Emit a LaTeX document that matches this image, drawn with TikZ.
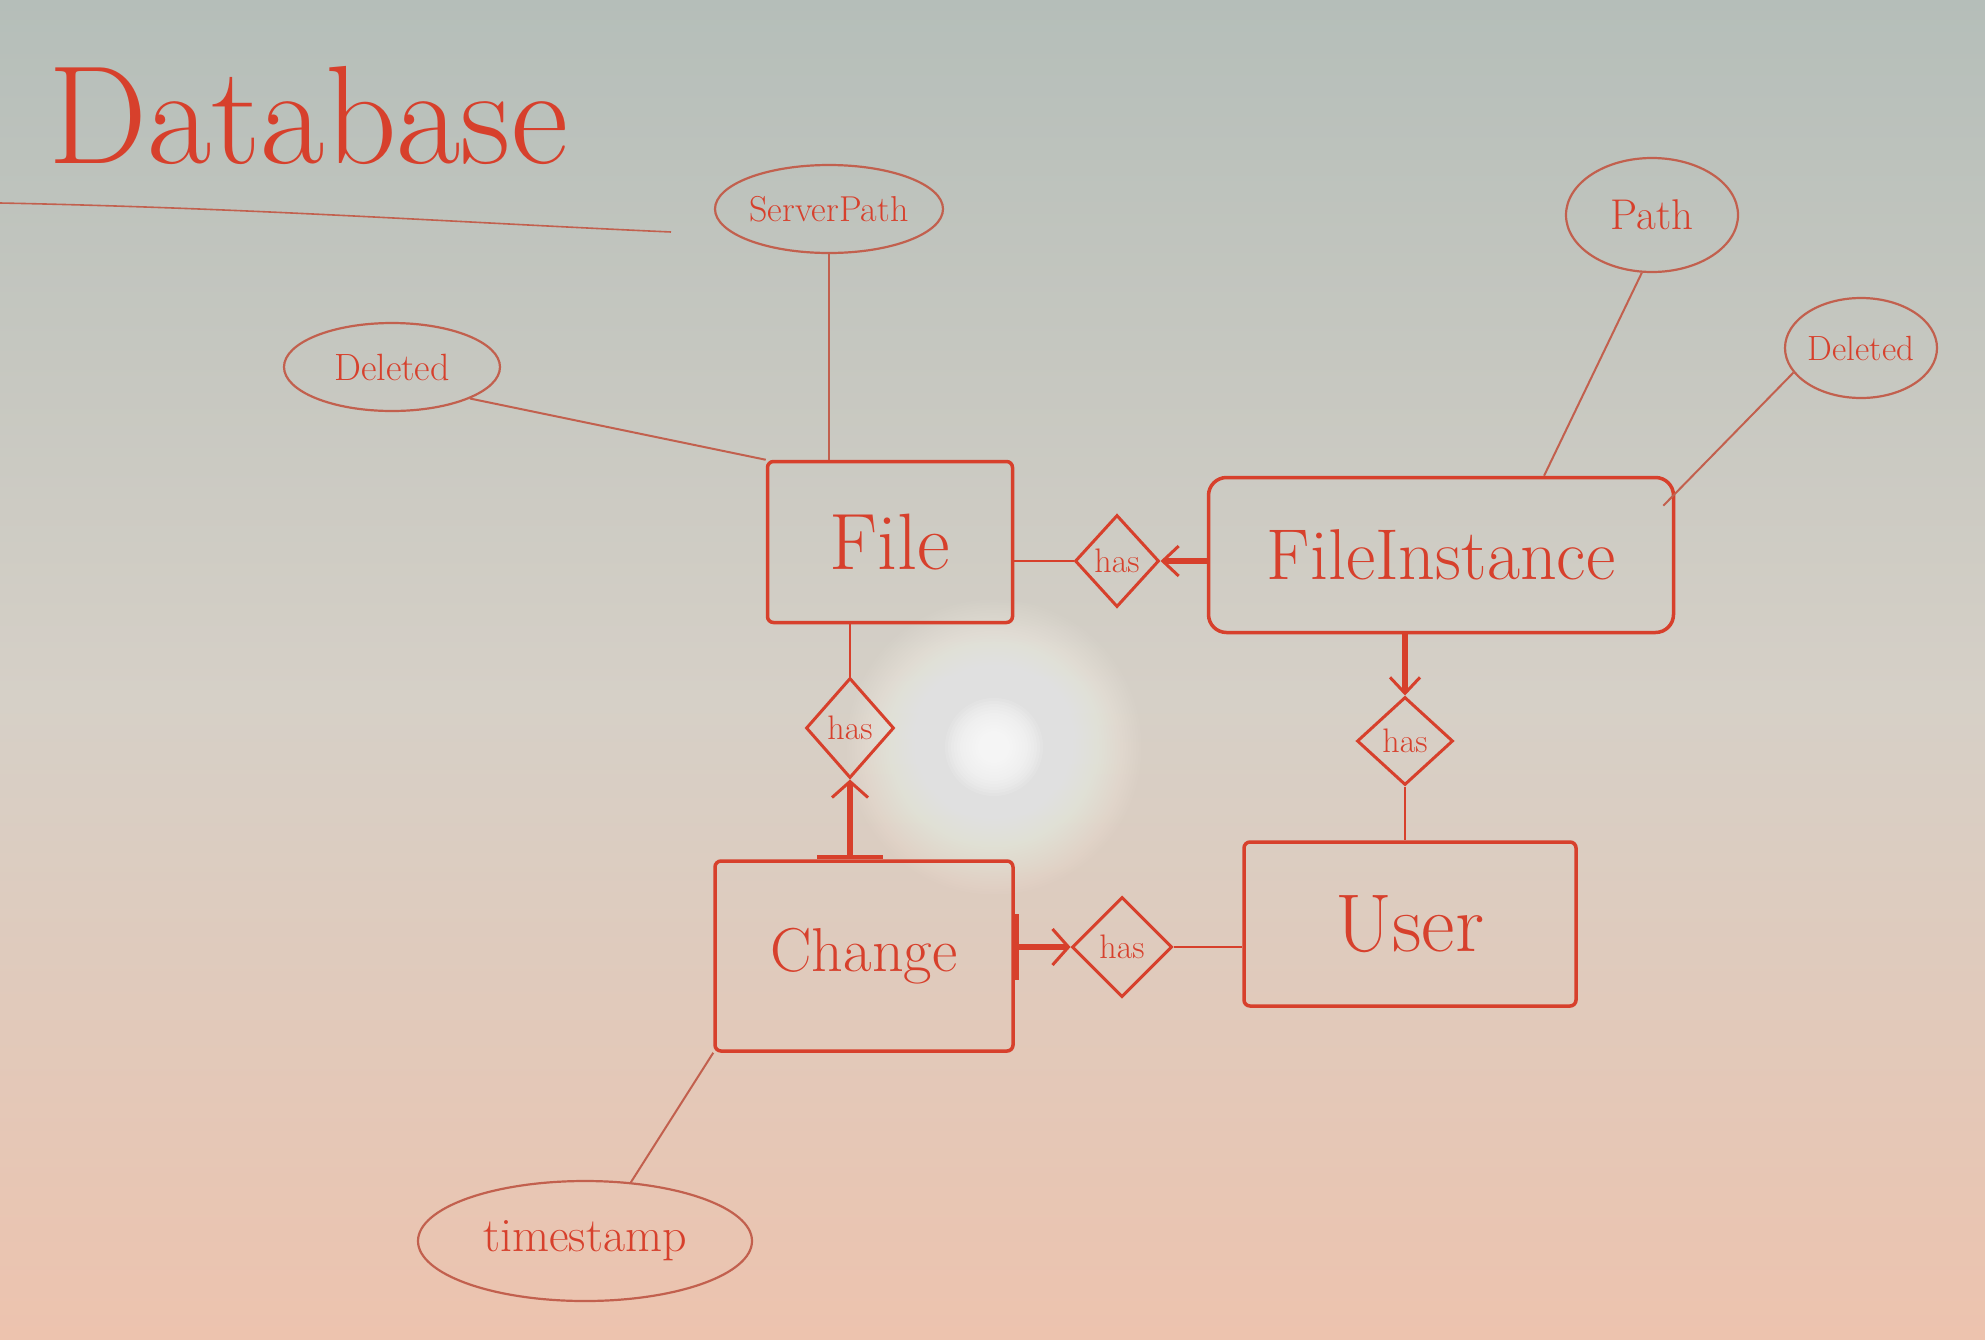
\documentclass[tikz,border=0pt]{standalone}
\usetikzlibrary{shapes.geometric,arrows.meta,calc}
\definecolor{ink}{HTML}{D7402C}
\definecolor{thinink}{HTML}{C2604E}
\definecolor{boardtop}{HTML}{B5BEB9}
\definecolor{boardmid}{HTML}{D6D0C7}
\definecolor{boardbot}{HTML}{EDC3AE}
\tikzset{
  entity/.style={draw=ink, line width=3.5pt, rounded corners=6pt, text=ink, inner sep=0pt},
  attr/.style={draw=thinink, ellipse, line width=2.2pt, text=ink, inner sep=0pt},
  rel/.style={draw=ink, diamond, line width=3pt, text=ink, inner sep=0pt, font=\fontsize{34}{34}\selectfont},
  thin/.style={draw=thinink, line width=2pt},
  link/.style={draw=ink, line width=2.2pt},
  heavy/.style={draw=ink, line width=5.5pt, -{Straight Barb[length=16pt,width=30pt,line width=3pt]}},
  heavybar/.style={draw=ink, line width=6pt, {Bar[width=66pt,line width=4pt]}-{Straight Barb[length=16pt,width=36pt,line width=3pt]}},
}
\begin{document}
\begin{tikzpicture}[x=1pt,y=-1pt]
\useasboundingbox (0,0) rectangle (1985,1339);
% board
\shade[top color=boardtop, bottom color=boardmid] (0,0) rectangle (1985,700);
\shade[top color=boardmid, bottom color=boardbot] (0,700) rectangle (1985,1339);
% glare
\foreach \i in {1,...,40}
  \fill[white, opacity=0.03] (994,747) circle ({150-\i*2.6});
\foreach \i in {1,...,12}
  \fill[white, opacity=0.12] (994,747) circle ({52-\i*3});

% title
\node[text=ink, font=\fontsize{140}{140}\selectfont] (title) at (308,115) {Database};
\coordinate (ul1) at (0,203);
\coordinate (ul2) at (671,232);
\draw[thin, line width=1.6pt] (ul1) .. controls (250,208) and (450,222) .. (ul2);

% entities
\node[entity, minimum width=245pt, minimum height=161pt, font=\fontsize{80}{80}\selectfont] (File) at (890,542) {File};
\node[entity, rounded corners=18pt, minimum width=465pt, minimum height=155pt, font=\fontsize{72}{72}\selectfont] (FI) at (1441,555) {FileInstance};
\node[entity, minimum width=298pt, minimum height=190pt, font=\fontsize{62}{62}\selectfont] (Change) at (864,956) {Change};
\node[entity, minimum width=332pt, minimum height=164pt, font=\fontsize{82}{82}\selectfont] (User) at (1410,924) {User};

% relationships
\node[rel, minimum width=84pt, minimum height=92pt] (has1) at (1117,561) {has};
\node[rel, minimum width=88pt, minimum height=100pt] (has2) at (850,728) {has};
\node[rel, minimum width=100pt, minimum height=100pt] (has3) at (1122,947) {has};
\node[rel, minimum width=96pt, minimum height=88pt] (has4) at (1405,741) {has};

% attributes
\node[attr, minimum width=228pt, minimum height=88pt, font=\fontsize{36}{36}\selectfont] (SP) at (829,209) {ServerPath};
\node[attr, minimum width=216pt, minimum height=88pt, font=\fontsize{38}{38}\selectfont] (DelL) at (392,367) {Deleted};
\node[attr, minimum width=172pt, minimum height=114pt, font=\fontsize{43}{43}\selectfont] (Path) at (1652,215) {Path};
\node[attr, minimum width=152pt, minimum height=100pt, font=\fontsize{35}{35}\selectfont] (DelR) at (1861,348) {Deleted};
\node[attr, minimum width=334pt, minimum height=120pt, font=\fontsize{48}{48}\selectfont] (TS) at (585,1241) {timestamp};

% attribute lines
\draw[thin] (SP.south) -- (SP.south |- File.north);
\draw[thin] (DelL.-22) -- (File.north west);
\draw[thin] (Path.-100) -- ($(FI.north west)!0.72!(FI.north east)$);
\draw[thin] (DelR.200) -- ($(FI.north east)+(-12,30)$);
\draw[thin] (Change.south west) -- (TS.52);

% relationship links
\draw[link] (File.east |- has1.west) -- (has1.west);
\draw[heavy] (FI.west |- has1.east) -- (has1.east);
\draw[link] (has2.north |- File.south) -- (has2.north);
\draw[heavybar] (has2.south |- Change.north) -- (has2.south);
\draw[heavybar] (Change.east |- has3.west) -- (has3.west);
\draw[link] (has3.east) -- (User.west |- has3.east);
\draw[heavy] (has4.north |- FI.south) -- (has4.north);
\draw[link] (has4.south) -- (has4.south |- User.north);
\end{tikzpicture}
\end{document}
